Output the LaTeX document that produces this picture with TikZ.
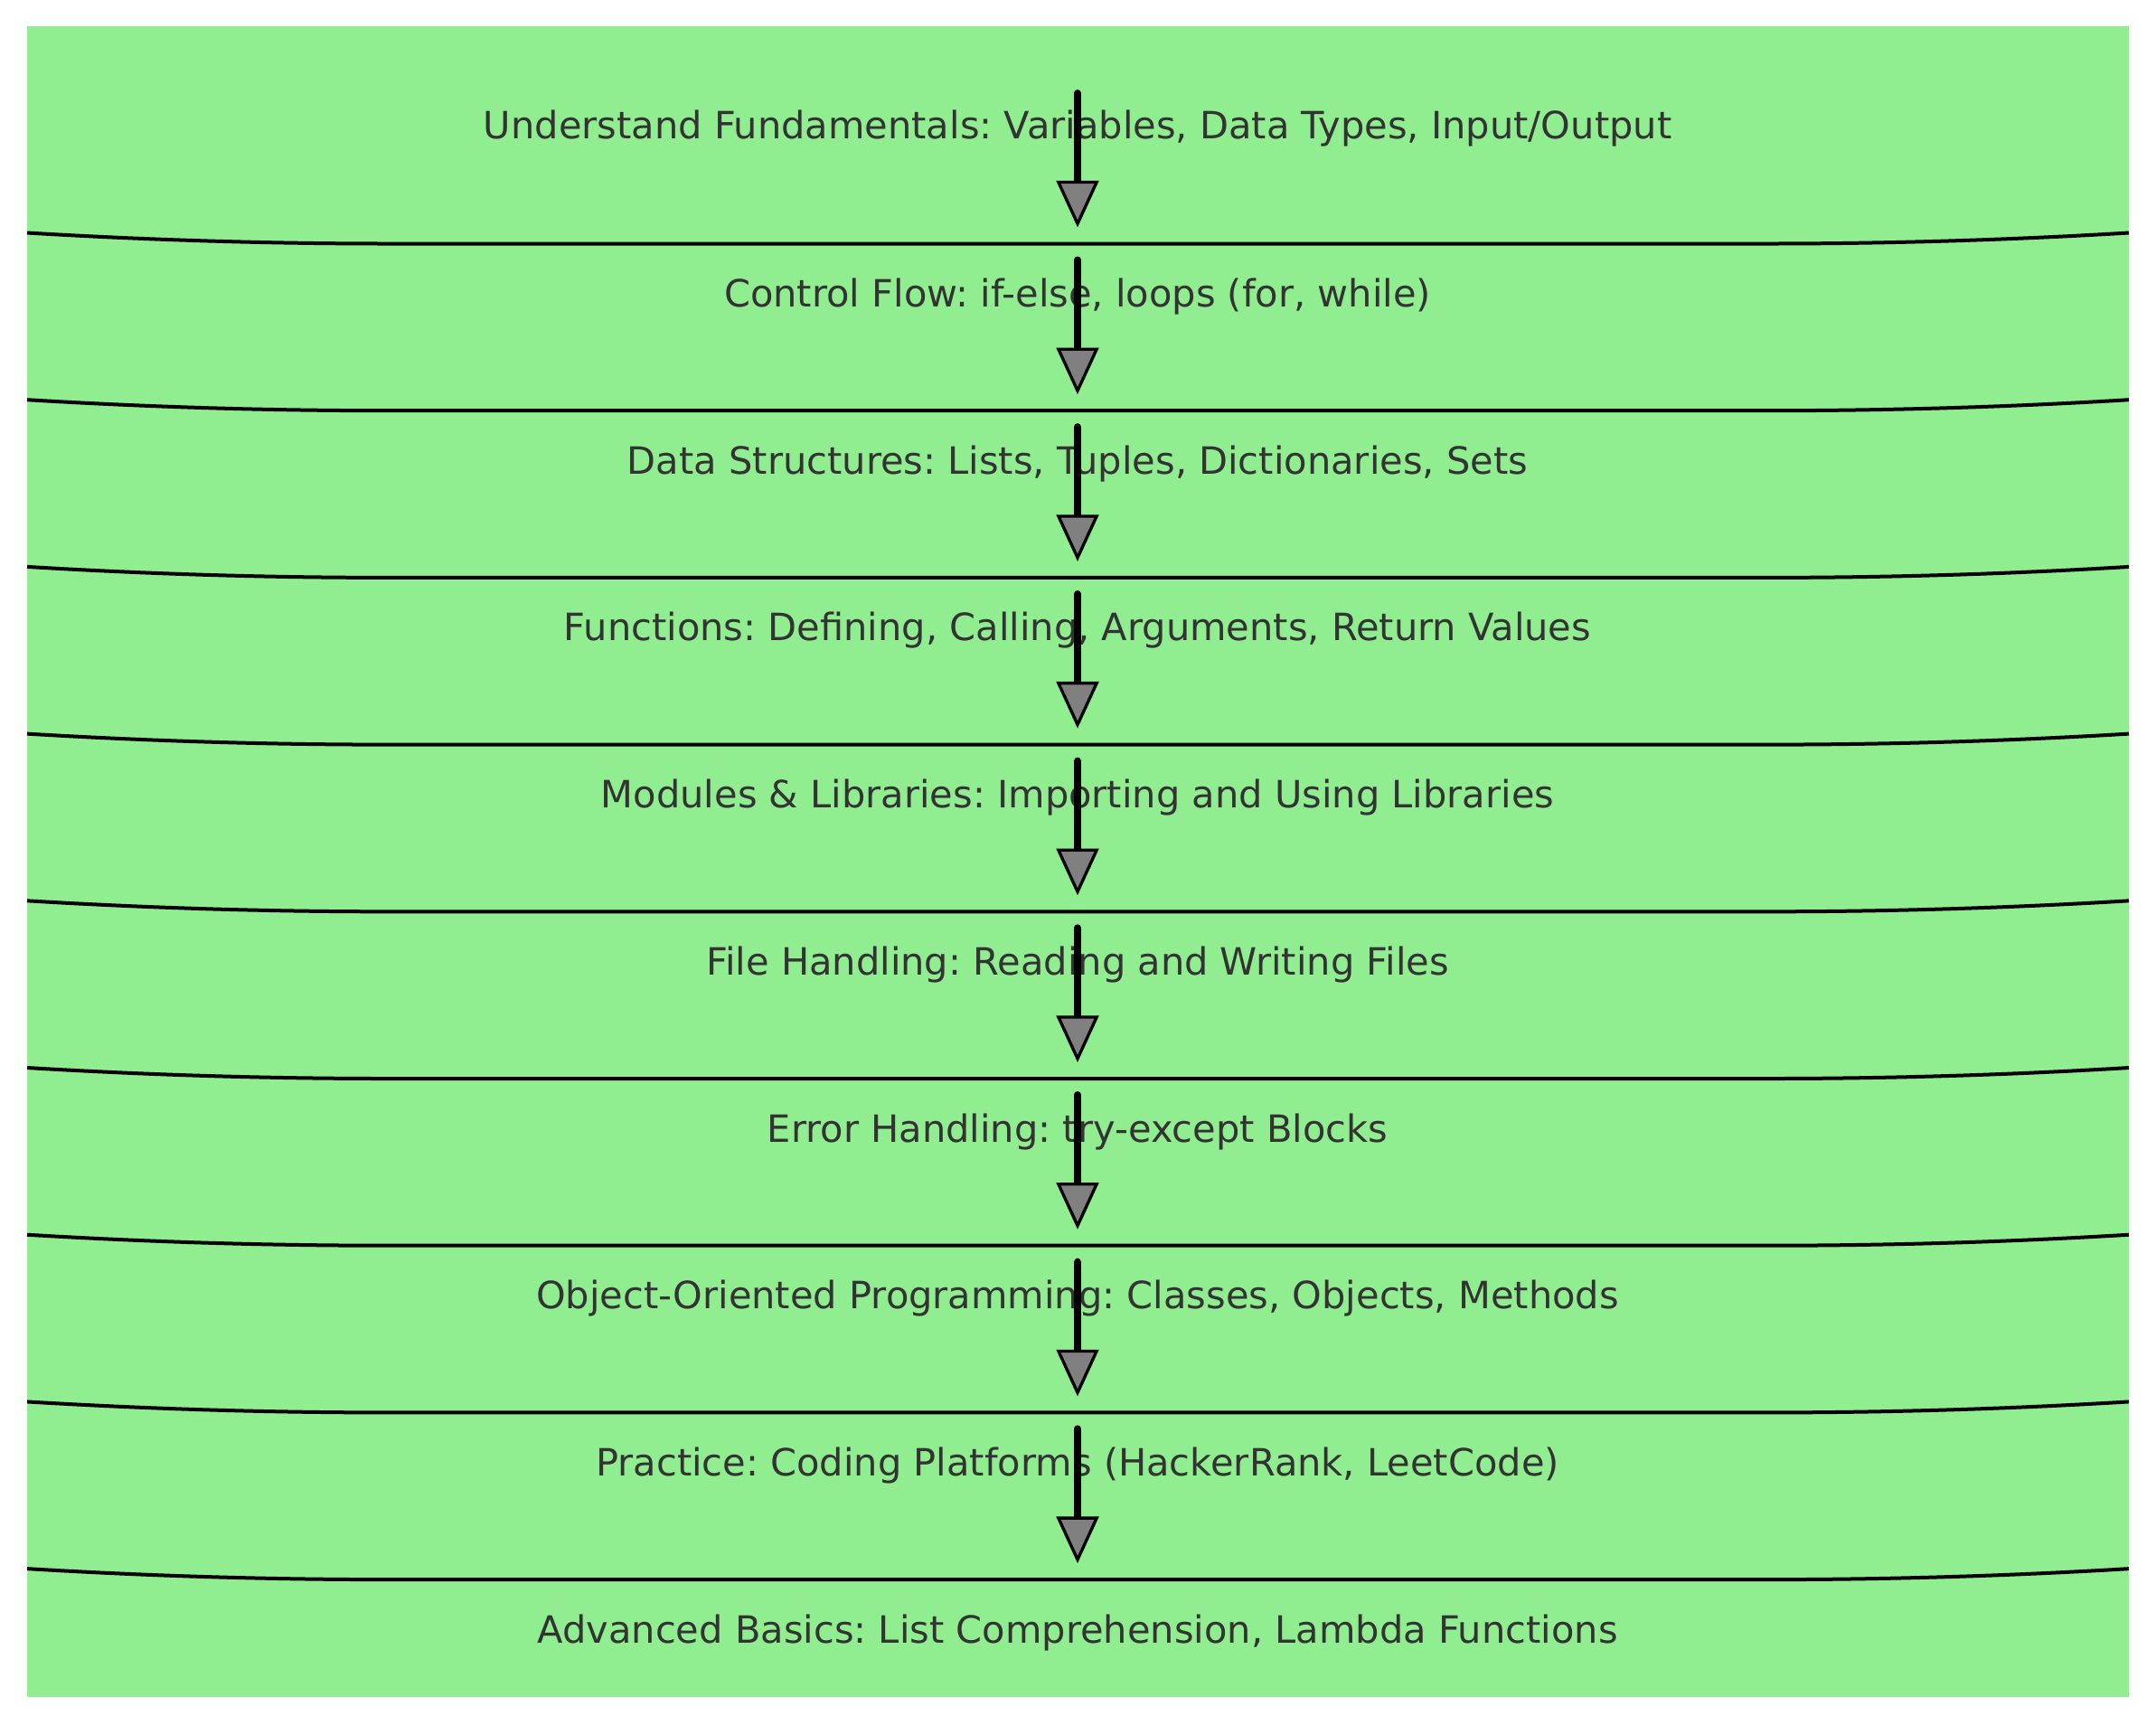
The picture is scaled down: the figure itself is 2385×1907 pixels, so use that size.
\documentclass[tikz,border=0pt]{standalone}
\usepackage{fontspec}
\setmainfont{DejaVu Sans}
\usetikzlibrary{arrows.meta}
\definecolor{bandgreen}{HTML}{90EE90}
\definecolor{txtgray}{HTML}{333333}
\frenchspacing
\begin{document}
\begin{tikzpicture}[x=0.3pt,y=-0.3pt,
  label/.style={anchor=base,inner sep=0pt,text=txtgray,font=\fontsize{12.47}{15}\selectfont},
  flowarrow/.style={line width=2.4pt,line cap=round,draw=black,
    -{Triangle[length=15.5pt,width=14pt,fill=gray,line width=1pt]}},
  sepline/.style={line width=1.2pt,draw=black}]
\useasboundingbox (0,0) rectangle (2385,1907);
\fill[bandgreen] (30,29) rectangle (2355,1877);
% separators
\foreach \y in {269.5,454.2,638.9,823.6,1008.3,1193,1377.7,1562.4,1747.1}{
  \draw[sepline] (30,\y-12) .. controls (163.3,\y-4) and (296.7,\y) .. (430,\y)
     -- (1955,\y) .. controls (2088.3,\y) and (2221.7,\y-4) .. (2355,\y-12);
}
% labels
\node[label] (n1) at (1192,153.5) {Understand Fundamentals: Variables, Data Types, Input/Output};
\node[label] (n2) at (1192,339.5) {Control Flow: if-else, loops (for, while)};
\node[label] (n3) at (1192,524.2) {Data Structures: Lists, Tuples, Dictionaries, Sets};
\node[label] (n4) at (1192,708.9) {Functions: Defining, Calling, Arguments, Return Values};
\node[label] (n5) at (1192,893.6) {Modules \& Libraries: Importing and Using Libraries};
\node[label] (n6) at (1192,1078.3) {File Handling: Reading and Writing Files};
\node[label] (n7) at (1192,1263) {Error Handling: try-except Blocks};
\node[label] (n8) at (1192,1447.7) {Object-Oriented Programming: Classes, Objects, Methods};
\node[label] (n9) at (1192,1632.4) {Practice: Coding Platforms (HackerRank, LeetCode)};
\node[label] (n10) at (1192,1817.1) {Advanced Basics: List Comprehension, Lambda Functions};
% arrow end points
\coordinate (s1) at (1192,103);    \coordinate (e1) at (1192,251.5);
\coordinate (s2) at (1192,287.5);  \coordinate (e2) at (1192,436.2);
\coordinate (s3) at (1192,472.2);  \coordinate (e3) at (1192,620.9);
\coordinate (s4) at (1192,656.9);  \coordinate (e4) at (1192,805.6);
\coordinate (s5) at (1192,841.6);  \coordinate (e5) at (1192,990.3);
\coordinate (s6) at (1192,1026.3); \coordinate (e6) at (1192,1175);
\coordinate (s7) at (1192,1211);   \coordinate (e7) at (1192,1359.7);
\coordinate (s8) at (1192,1395.7); \coordinate (e8) at (1192,1544.4);
\coordinate (s9) at (1192,1580.4); \coordinate (e9) at (1192,1729.1);
\foreach \i in {1,...,9}{
  \draw[flowarrow] (s\i) -- (e\i);
}
\end{tikzpicture}
\end{document}
